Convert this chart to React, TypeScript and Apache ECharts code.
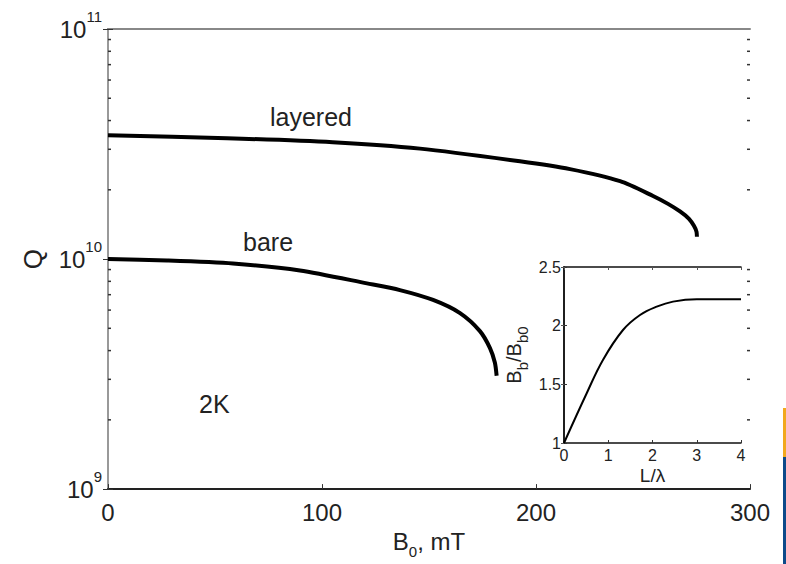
import React, { useEffect, useRef } from "react";
import * as echarts from "echarts";

// Main plot: Q vs B0 (mT), log y
const layeredB = [0, 55.6, 105, 145.8, 192.5, 215.9, 239.3, 254.7, 261.7, 267.3, 271.5, 273.8, 275.0, 275.2];
const layeredQ = [3.45e10, 3.35e10, 3.22e10, 3.02e10, 2.66e10, 2.46e10, 2.18e10, 1.88e10, 1.737e10, 1.61e10, 1.496e10, 1.395e10, 1.315e10, 1.25e10];
const bareB = [0, 27.6, 58.4, 89.7, 121, 136.4, 151.9, 164.5, 173.8, 178.5, 180.8, 181.6];
const bareQ = [1.0e10, 9.85e9, 9.56e9, 8.92e9, 7.84e9, 7.33e9, 6.64e9, 5.82e9, 4.86e9, 4.1e9, 3.54e9, 3.11e9];
const xTicks = [0, 100, 200, 300];
const yMinorTicks = [2e9, 3e9, 4e9, 5e9, 6e9, 7e9, 8e9, 9e9, 2e10, 3e10, 4e10, 5e10, 6e10, 7e10, 8e10, 9e10];

// Inset: Bb/Bb0 vs L/lambda
const insetL = [0, 0.513, 0.88, 1.333, 1.718, 2.095, 2.463, 3.0, 4.0];
const insetB = [1, 1.424, 1.708, 1.963, 2.091, 2.162, 2.205, 2.225, 2.225];

const annotations = [
  { text: "layered", x: 270, y: 118 },
  { text: "bare", x: 243, y: 243 },
  { text: "2K", x: 199, y: 405 },
];

const FONT = "Liberation Sans, Arial, Helvetica, sans-serif";

export default function App() {
  const ref = useRef<HTMLDivElement>(null);
  useEffect(() => {
    if (!ref.current) return;
    const chart = echarts.init(ref.current, null, { renderer: "svg" });
    const supRich = {
      a: { fontSize: 24, fontFamily: FONT, color: "#222", lineHeight: 40 },
      s: { fontSize: 15, fontFamily: FONT, color: "#222", lineHeight: 16, verticalAlign: "top" },
    };
    const option: any = {
      animation: false,
      backgroundColor: "#fff",
      textStyle: { fontFamily: FONT },
      grid: [
        { left: 108, top: 29, width: 642, height: 463 },
        { left: 564, top: 267, width: 177, height: 176 },
      ],
      xAxis: [
        {
          gridIndex: 0,
          type: "value",
          min: xTicks[0],
          max: xTicks[xTicks.length - 1],
          interval: 100,
          position: "bottom",
          axisLine: { show: true, lineStyle: { color: "#222", width: 2 } },
          axisTick: { show: true, inside: true, length: 5, lineStyle: { color: "#333" } },
          axisLabel: { fontSize: 24, color: "#222", margin: 11, fontFamily: FONT },
          splitLine: { show: false },
          name: "{a|B}{s|0}{a|, mT}",
          nameLocation: "middle",
          nameGap: 38,
          nameTextStyle: {
            rich: {
              a: { fontSize: 24, fontFamily: FONT, color: "#222", lineHeight: 30, verticalAlign: "top" },
              s: { fontSize: 15, fontFamily: FONT, color: "#222", lineHeight: 16, verticalAlign: "bottom" },
            },
          },
        },
        {
          gridIndex: 0,
          type: "value",
          min: 0,
          max: 300,
          interval: 100,
          position: "top",
          axisLine: { show: true, lineStyle: { color: "#888", width: 2 } },
          axisTick: { show: false },
          axisLabel: { show: false },
          splitLine: { show: false },
        },
        {
          gridIndex: 1,
          type: "value",
          min: 0,
          max: 4,
          interval: 1,
          position: "bottom",
          axisLine: { show: true, lineStyle: { color: "#111", width: 1.5 } },
          axisTick: { show: true, inside: true, length: 3, lineStyle: { color: "#333" } },
          axisLabel: { fontSize: 16, color: "#222", margin: 4, fontFamily: FONT },
          splitLine: { show: false },
          name: "L/λ",
          nameLocation: "middle",
          nameGap: 23,
          nameTextStyle: { fontSize: 19, color: "#222", fontFamily: FONT },
        },
        {
          gridIndex: 1,
          type: "value",
          min: 0,
          max: 4,
          interval: 1,
          position: "top",
          axisLine: { show: true, lineStyle: { color: "#111", width: 1.5 } },
          axisTick: { show: true, inside: true, length: 3, lineStyle: { color: "#555" } },
          axisLabel: { show: false },
          splitLine: { show: false },
        },
      ],
      yAxis: [
        {
          gridIndex: 0,
          type: "log",
          logBase: 10,
          min: 1e9,
          max: 1e11,
          position: "left",
          axisLine: { show: true, lineStyle: { color: "#7a7a7a", width: 2 } },
          axisTick: { show: true, inside: true, length: 5, lineStyle: { color: "#333" } },
          axisLabel: {
            margin: 6,
            formatter: (v: number) => `{a|10}{s|${Math.round(Math.log10(v))}}`,
            rich: supRich,
          },
          splitLine: { show: false },
          name: "Q",
          nameLocation: "middle",
          nameRotate: 90,
          nameGap: 62,
          nameTextStyle: { fontSize: 26, color: "#222", fontFamily: FONT },
        },
        {
          gridIndex: 0,
          type: "log",
          logBase: 10,
          min: 1e9,
          max: 1e11,
          position: "right",
          axisLine: { show: true, lineStyle: { color: "#999", width: 2 } },
          axisTick: { show: true, inside: true, length: 5, lineStyle: { color: "#333" } },
          axisLabel: { show: false },
          splitLine: { show: false },
        },
        {
          gridIndex: 1,
          type: "value",
          min: 1,
          max: 2.5,
          interval: 0.5,
          position: "left",
          axisLine: { show: true, lineStyle: { color: "#111", width: 1.5 } },
          axisTick: { show: true, inside: true, length: 3, lineStyle: { color: "#333" } },
          axisLabel: { fontSize: 16, color: "#222", margin: 3, fontFamily: FONT },
          splitLine: { show: false },
          name: "{a|B}{s|b}{a|/B}{s|b0}",
          nameLocation: "middle",
          nameRotate: 90,
          nameGap: 34,
          nameTextStyle: {
            rich: {
              a: { fontSize: 20, fontFamily: FONT, color: "#222", lineHeight: 26, verticalAlign: "top" },
              s: { fontSize: 15, fontFamily: FONT, color: "#222", lineHeight: 16, verticalAlign: "bottom" },
            },
          },
        },
        {
          gridIndex: 1,
          type: "value",
          min: 1,
          max: 2.5,
          interval: 0.5,
          position: "right",
          axisLine: { show: true, lineStyle: { color: "#111", width: 1.5 } },
          axisTick: { show: true, inside: true, length: 3, lineStyle: { color: "#555" } },
          axisLabel: { show: false },
          splitLine: { show: false },
        },
      ],
      series: [
        {
          name: "layered",
          type: "line",
          xAxisIndex: 0,
          yAxisIndex: 0,
          data: layeredB.map((b, i) => [b, layeredQ[i]]),
          showSymbol: false,
          smooth: 0.25,
          lineStyle: { color: "#000", width: 4 },
        },
        {
          name: "bare",
          type: "line",
          xAxisIndex: 0,
          yAxisIndex: 0,
          data: bareB.map((b, i) => [b, bareQ[i]]),
          showSymbol: false,
          smooth: 0.25,
          lineStyle: { color: "#000", width: 4 },
        },
        {
          name: "minorTicks",
          type: "custom",
          xAxisIndex: 0,
          yAxisIndex: 0,
          silent: true,
          data: yMinorTicks.map((v) => [0, v]),
          renderItem: (params: any, api: any) => {
            const p = api.coord([0, api.value(1)]);
            const cs = params.coordSys;
            return {
              type: "group",
              children: [
                { type: "line", shape: { x1: cs.x, y1: p[1], x2: cs.x + 3, y2: p[1] }, style: { stroke: "#333", lineWidth: 1.5 } },
                { type: "line", shape: { x1: cs.x + cs.width, y1: p[1], x2: cs.x + cs.width - 3, y2: p[1] }, style: { stroke: "#333", lineWidth: 1.5 } },
              ],
            };
          },
        },
        {
          name: "inset",
          type: "line",
          xAxisIndex: 2,
          yAxisIndex: 2,
          data: insetL.map((l, i) => [l, insetB[i]]),
          showSymbol: false,
          smooth: 0.4,
          lineStyle: { color: "#000", width: 2 },
        },
      ],
      graphic: [
        ...annotations.map((a) => ({
          type: "text",
          left: a.x,
          top: a.y - 14,
          style: { text: a.text, fontSize: 25, fill: "#222", fontFamily: FONT },
        })),
        { type: "rect", shape: { x: 783, y: 408, width: 3, height: 49 }, style: { fill: "#f2a81d" } },
        { type: "rect", shape: { x: 783, y: 457, width: 3, height: 107 }, style: { fill: "#0d4a8a" } },
      ],
    };
    chart.setOption(option);
    return () => chart.dispose();
  }, []);
  return (
    <div
      ref={ref}
      style={{ position: "fixed", left: 0, top: 0, width: 786, height: 564, background: "#fff" }}
    />
  );
}
